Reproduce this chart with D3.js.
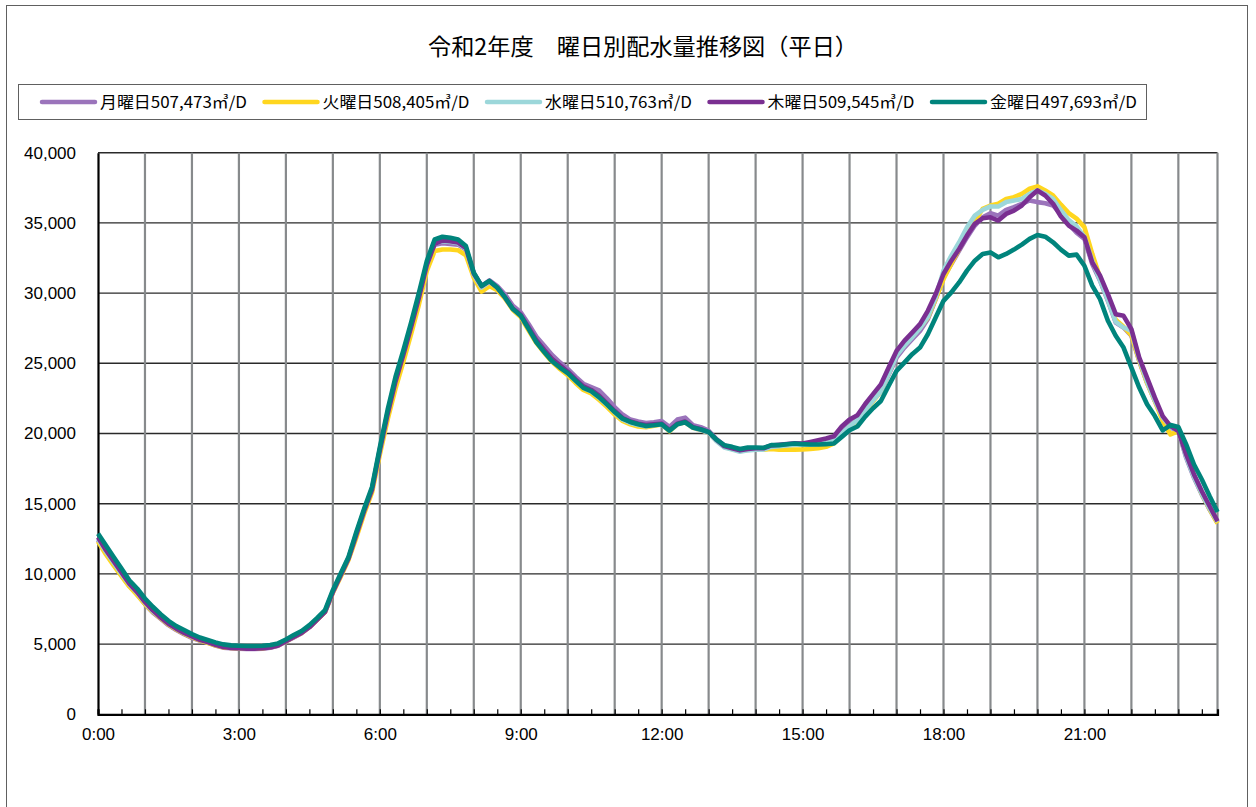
<!DOCTYPE html>
<html>
<head>
<meta charset="utf-8">
<script src="https://cdn.jsdelivr.net/npm/d3@7"></script>
<style>
  body { margin: 0; background: #fff; }
  text { font-family: "Noto Sans CJK JP", "Noto Sans", sans-serif; fill: #000; }
</style>
</head>
<body>
<div id="chart"></div>
<script>
// 令和2年度 曜日別配水量推移図（平日） 10分毎
const title = '令和2年度　曜日別配水量推移図（平日）';
const days = ['月曜日', '火曜日', '水曜日', '木曜日', '金曜日'];
const totals = ['507,473', '508,405', '510,763', '509,545', '497,693'];
const colors = ['#9b74bb', '#ffd61f', '#9cd7da', '#7a2f91', '#00847c'];
const minutes = d3.range(0, 1440, 10);
const yTicks = [0, 5000, 10000, 15000, 20000, 25000, 30000, 35000, 40000];
const xLabels = ['0:00', '3:00', '6:00', '9:00', '12:00', '15:00', '18:00', '21:00'];

const mon = [
  12400, 11500, 10700, 9900, 9150, 8550,
  7850, 7250, 6800, 6350, 6000, 5700,
  5450, 5250, 5100, 4900, 4750, 4700,
  4680, 4660, 4660, 4680, 4740, 4880,
  5180, 5480, 5780, 6200, 6750, 7300,
  8700, 9900, 11100, 12800, 14500, 16000,
  18900, 21500, 23800, 25700, 27700, 29800,
  32000, 33450, 33550, 33500, 33450, 33100,
  31400, 30500, 30900, 30500, 29900, 29100,
  28630, 27800, 26900, 26250, 25600, 25070,
  24600, 24050, 23540, 23300, 23070, 22500,
  21880, 21350, 20990, 20850, 20750, 20800,
  20890, 20470, 20990, 21130, 20590, 20450,
  20200, 19600, 19150, 18950, 18800, 18850,
  18900, 18900, 19100, 19150, 19200, 19250,
  19250, 19300, 19350, 19450, 19550, 20100,
  20600, 21000, 21700, 22400, 23000, 24200,
  25400, 26120, 26720, 27310, 28150, 29570,
  31120, 32070, 33020, 33970, 34810, 35400,
  35690, 35520, 35930, 36120, 36360, 36600,
  36480, 36400, 36240, 35640, 34900, 34300,
  33860, 32070, 30880, 29450, 27910, 27550,
  26960, 25170, 23620, 22310, 21120, 20410,
  20170, 18270, 16840, 15650, 14580, 13630
];
const tue = [
  12300, 11400, 10600, 9850, 9100, 8500,
  7850, 7300, 6850, 6400, 6050, 5750,
  5500, 5270, 5100, 4920, 4780, 4720,
  4700, 4690, 4690, 4710, 4780, 4920,
  5200, 5500, 5800, 6220, 6750, 7300,
  8650, 9800, 11000, 12600, 14300, 15800,
  18500, 21000, 23200, 25100, 27100, 29200,
  31580, 33000, 33110, 33110, 33050, 32700,
  31100, 30110, 30500, 30200, 29600, 28800,
  28300, 27350, 26450, 25750, 25100, 24600,
  24150, 23600, 23100, 22850, 22400, 21900,
  21350, 20900, 20650, 20500, 20450, 20550,
  20650, 20150, 20650, 20800, 20400, 20250,
  20050, 19500, 19050, 18900, 18750, 18850,
  18900, 18850, 18900, 18850, 18850, 18850,
  18860, 18900, 18950, 19050, 19300, 19900,
  20470, 20900, 21600, 22300, 23000, 24300,
  25640, 26300, 26900, 27550, 28260, 29570,
  31000, 32100, 33150, 34200, 35100, 36000,
  36240, 36360, 36710, 36830, 37070, 37430,
  37600, 37310, 36950, 36300, 35700, 35300,
  34700, 32800, 31100, 29600, 28100, 27600,
  27000, 25200, 23600, 22300, 20890, 19930,
  20170, 18510, 17000, 15700, 14600, 13600
];
const wed = [
  12500, 11600, 10800, 10000, 9250, 8650,
  7950, 7350, 6900, 6450, 6100, 5800,
  5550, 5320, 5150, 4980, 4830, 4760,
  4730, 4720, 4720, 4740, 4800, 4950,
  5250, 5550, 5850, 6250, 6800, 7350,
  8750, 9950, 11150, 12900, 14550, 16100,
  18800, 21500, 23800, 25700, 27700, 29800,
  32000, 33550, 33700, 33650, 33550, 33150,
  31300, 30400, 30800, 30400, 29700, 28900,
  28400, 27500, 26600, 25900, 25200, 24750,
  24300, 23750, 23250, 23000, 22550, 22050,
  21500, 21000, 20750, 20600, 20500, 20600,
  20650, 20200, 20650, 20800, 20400, 20250,
  20050, 19450, 19000, 18850, 18700, 18800,
  18850, 18850, 19050, 19100, 19150, 19200,
  19200, 19200, 19250, 19350, 19500, 20000,
  20500, 20950, 21650, 22350, 23000, 24250,
  25550, 26250, 26850, 27500, 28300, 29700,
  31600, 32670, 33620, 34690, 35520, 35930,
  36170, 36170, 36480, 36600, 36710, 37070,
  37310, 37070, 36700, 35900, 35200, 34750,
  34000, 32300, 30900, 29500, 27950, 27550,
  27310, 25300, 23700, 22350, 21150, 20450,
  20200, 18350, 16900, 15700, 14650, 13700
];
const thu = [
  12600, 11700, 10900, 10100, 9300, 8700,
  8000, 7400, 6900, 6450, 6100, 5800,
  5550, 5300, 5150, 4950, 4800, 4720,
  4700, 4680, 4680, 4700, 4760, 4900,
  5200, 5500, 5800, 6200, 6750, 7300,
  8700, 9900, 11100, 12800, 14500, 16000,
  18800, 21400, 23700, 25600, 27600, 29700,
  32000, 33500, 33750, 33700, 33600, 33200,
  31400, 30500, 30850, 30400, 29700, 28900,
  28450, 27550, 26650, 25950, 25300, 24850,
  24400, 23850, 23350, 23100, 22700, 22150,
  21600, 21100, 20850, 20700, 20600, 20650,
  20700, 20250, 20700, 20850, 20450, 20300,
  20100, 19550, 19100, 18950, 18800, 18900,
  18950, 18950, 19150, 19200, 19250, 19300,
  19290, 19400, 19520, 19640, 19800, 20500,
  21000, 21300, 22100, 22800, 23500, 24700,
  25880, 26600, 27190, 27790, 28740, 29930,
  31360, 32310, 33140, 34100, 34930, 35330,
  35400, 35170, 35640, 35880, 36240, 36830,
  37310, 36950, 36360, 35450, 34810, 34450,
  33980, 32190, 31240, 29930, 28500, 28380,
  27430, 25410, 23980, 22550, 21240, 20530,
  20170, 18510, 17080, 15890, 14820, 13750
];
const fri = [
  12870, 12040, 11210, 10380, 9550, 8960,
  8250, 7660, 7130, 6660, 6280, 6000,
  5710, 5470, 5290, 5120, 4980, 4910,
  4880, 4860, 4860, 4880, 4930, 5050,
  5330, 5640, 5930, 6350, 6870, 7420,
  8840, 10030, 11210, 12990, 14650, 16190,
  19000, 21700, 24030, 25910, 27920, 30040,
  32290, 33820, 34010, 33940, 33820, 33350,
  31460, 30510, 30870, 30400, 29690, 28860,
  28390, 27450, 26500, 25800, 25150, 24700,
  24300, 23770, 23250, 23020, 22590, 22070,
  21530, 21060, 20820, 20660, 20540, 20590,
  20660, 20190, 20660, 20800, 20420, 20280,
  20110, 19570, 19170, 19050, 18890, 19000,
  19000, 18980, 19170, 19170, 19240, 19290,
  19240, 19220, 19220, 19240, 19290, 19760,
  20230, 20500, 21200, 21800, 22315, 23400,
  24460, 25050, 25650, 26120, 27070, 28260,
  29450, 30050, 30760, 31600, 32310, 32790,
  32900, 32550, 32790, 33100, 33450, 33860,
  34140, 34020, 33620, 33100, 32670, 32740,
  31950, 30530, 29570, 28030, 26960, 26120,
  24690, 23270, 22080, 21240, 20220, 20600,
  20460, 19220, 17790, 16720, 15530, 14410
];
const series = [mon, tue, wed, thu, fri];

const width = 1256;
const height = 807;
const plot = { left: 98, right: 1217.5, top: 152.7, bottom: 714.3 };

const svg = d3.select('#chart')
  .append('svg')
  .attr('width', width)
  .attr('height', height);

// 外枠
svg.append('rect')
  .attr('x', 6.5).attr('y', 5.5)
  .attr('width', 1241).attr('height', 820)
  .attr('fill', 'none')
  .attr('stroke', '#606060');

svg.append('text')
  .attr('x', 643).attr('y', 55)
  .attr('text-anchor', 'middle')
  .attr('textLength', 430)
  .attr('lengthAdjust', 'spacingAndGlyphs')
  .style('font-size', '22.5px')
  .text(title);

const x = d3.scaleLinear().domain([0, 1430]).range([plot.left, plot.right]);
const y = d3.scaleLinear().domain([0, 40000]).range([plot.bottom, plot.top]);

// 横グリッド
svg.append('g')
  .selectAll('line')
  .data(yTicks.slice(1))
  .enter().append('line')
  .attr('x1', plot.left).attr('x2', plot.right)
  .attr('y1', d => y(d)).attr('y2', d => y(d))
  .attr('stroke', '#2a2a2a')
  .attr('stroke-width', 1.4);

// 縦グリッド（1時間毎）
svg.append('g')
  .selectAll('line')
  .data(d3.range(60, 1440, 60).concat([1430]))
  .enter().append('line')
  .attr('x1', d => x(d)).attr('x2', d => x(d))
  .attr('y1', plot.top).attr('y2', plot.bottom)
  .attr('stroke', '#878a8c')
  .attr('stroke-width', 2.2);

// y軸
const yAxis = svg.append('g')
  .attr('transform', `translate(${plot.left},0)`)
  .call(d3.axisLeft(y).tickValues(yTicks).tickFormat(d3.format(',')).tickSize(0).tickPadding(22));
yAxis.select('.domain').attr('stroke', '#000').attr('stroke-width', 2.2);
yAxis.selectAll('text')
  .style('font-size', '17px')
  .style('font-family', '"Liberation Sans", Arial, sans-serif');

// x軸（30分毎の目盛）
const xAxis = svg.append('g')
  .attr('transform', `translate(0,${plot.bottom})`)
  .call(d3.axisBottom(x).tickValues(d3.range(0, 1440, 30)).tickSize(-5).tickFormat(d => d % 180 === 0 ? xLabels[d / 180] : '').tickPadding(14));
xAxis.select('.domain').attr('stroke', '#000').attr('stroke-width', 2.2);
xAxis.selectAll('.tick line').attr('stroke', '#000').attr('stroke-width', 1.2);
xAxis.selectAll('text')
  .style('font-size', '17px')
  .style('font-family', '"Liberation Sans", Arial, sans-serif');

const line = d3.line()
  .x((d, i) => x(minutes[i]))
  .y(d => y(d));

svg.append('g')
  .selectAll('path')
  .data(series)
  .enter().append('path')
  .attr('d', d => line(d))
  .attr('fill', 'none')
  .attr('stroke', (d, i) => colors[i])
  .attr('stroke-width', 4.6)
  .attr('stroke-linejoin', 'round');

// 凡例
svg.append('rect')
  .attr('x', 18.5).attr('y', 84.5)
  .attr('width', 1128).attr('height', 35)
  .attr('fill', '#fff')
  .attr('stroke', '#606060');

const legend = svg.append('g')
  .selectAll('g')
  .data(days)
  .enter().append('g')
  .attr('transform', (d, i) => `translate(${42 + i * 222.5},102)`);

legend.append('line')
  .attr('x1', 0).attr('x2', 53)
  .attr('stroke', (d, i) => colors[i])
  .attr('stroke-width', 4.5)
  .attr('stroke-linecap', 'round');

legend.append('text')
  .attr('x', 58).attr('y', 6)
  .attr('textLength', 147)
  .attr('lengthAdjust', 'spacingAndGlyphs')
  .style('font-size', '16px')
  .text((d, i) => `${d}${totals[i]}㎥/D`);
</script>
</body>
</html>
